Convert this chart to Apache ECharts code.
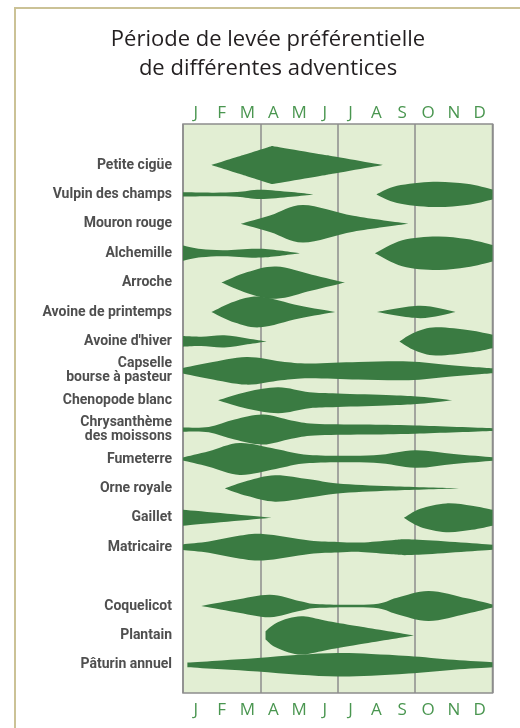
<!DOCTYPE html>
<html>
<head>
<meta charset="utf-8">
<title>Période de levée préférentielle</title>
<script src="https://cdn.jsdelivr.net/npm/echarts@6/dist/echarts.min.js"></script>
<style>
html, body { margin: 0; padding: 0; background: #fff; }
#main { width: 520px; height: 728px; }
</style>
</head>
<body>
<div id="main"></div>
<script>
// mois, en haut et en bas du tableau
const months = ['J', 'F', 'M', 'A', 'M', 'J', 'J', 'A', 'S', 'O', 'N', 'D'];

// adventices de haut en bas ('' = ligne vide avant Coquelicot)
const weeds = [
    'Petite cigüe', 'Vulpin des champs', 'Mouron rouge', 'Alchemille', 'Arroche',
    'Avoine de printemps', "Avoine d'hiver", 'Capselle\nbourse à pasteur', 'Chenopode blanc',
    'Chrysanthème\ndes moissons', 'Fumeterre', 'Orne royale', 'Gaillet', 'Matricaire',
    '', 'Coquelicot', 'Plantain', 'Pâturin annuel'
];

// fuseaux : [adventice, [[mois, demi-épaisseur (en hauteur de ligne)], ...]]
const lenses = [
    ['Petite cigüe', [[1.1, 0], [2.3, 0.33], [3.45, 0.65], [5.6, 0.33], [7.75, 0]]],
    ['Vulpin des champs', [[0, 0.07], [1.2, 0.06], [2.1, 0.08], [3.0, 0.16], [4.2, 0.08], [5.05, 0]]],
    ['Vulpin des champs', [[7.5, 0], [8.3, 0.29], [9.7, 0.43], [11, 0.36], [12, 0.17]]],
    ['Mouron rouge', [[2.24, 0], [3.4, 0.29], [4.66, 0.64], [6.6, 0.27], [8.74, 0]]],
    ['Alchemille', [[0, 0.26], [0.7, 0.14], [1.6, 0.10], [3.0, 0.15], [4.53, 0]]],
    ['Alchemille', [[7.44, 0], [8.5, 0.44], [9.84, 0.57], [11, 0.48], [12, 0.28]]],
    ['Arroche', [[1.49, 0], [2.5, 0.36], [3.62, 0.55], [5.0, 0.27], [6.28, 0]]],
    ['Avoine de printemps', [[1.1, 0], [2.0, 0.36], [3.0, 0.52], [4.5, 0.22], [5.9, 0]]],
    ['Avoine de printemps', [[7.52, 0], [9.2, 0.21], [10.57, 0]]],
    ["Avoine d'hiver", [[0, 0.18], [0.7, 0.16], [1.6, 0.21], [2.5, 0.10], [3.24, 0]]],
    ["Avoine d'hiver", [[8.39, 0], [9.0, 0.31], [9.8, 0.48], [11.1, 0.38], [12, 0.23]]],
    ['Capselle\nbourse à pasteur', [[0, 0.095], [1.0, 0.27], [2.46, 0.47], [3.8, 0.32], [4.9, 0.25],
        [6.8, 0.30], [8.75, 0.32], [10.3, 0.20], [12, 0.085]]],
    ['Chenopode blanc', [[1.36, 0], [2.5, 0.29], [3.7, 0.44], [4.9, 0.27], [6, 0.23],
        [8.1, 0.17], [9.2, 0.12], [10.44, 0]]],
    ['Chrysanthème\ndes moissons', [[0, 0.07], [1.0, 0.09], [2.0, 0.34], [3.1, 0.51], [4.2, 0.31],
        [5.1, 0.20], [7, 0.17], [9, 0.14], [12, 0.05]]],
    ['Fumeterre', [[0, 0.05], [1.0, 0.26], [2.2, 0.54], [3.6, 0.34], [4.9, 0.14], [7.4, 0.13],
        [9.0, 0.30], [10.5, 0.17], [12, 0.06]]],
    ['Orne royale', [[1.62, 0], [2.5, 0.26], [3.57, 0.45], [4.9, 0.31], [6, 0.17], [8.1, 0.07], [10.7, 0]]],
    ['Gaillet', [[0, 0.27], [3.44, 0]]],
    ['Gaillet', [[8.56, 0], [9.2, 0.31], [10.2, 0.49], [11.2, 0.41], [12, 0.27]]],
    ['Matricaire', [[0, 0.095], [1.0, 0.19], [2.0, 0.36], [3.1, 0.45], [4.9, 0.23], [6, 0.18],
        [6.9, 0.16], [8.1, 0.24], [9, 0.26], [12, 0.085]]],
    ['Coquelicot', [[0.71, 0], [2.0, 0.20], [3.37, 0.38], [4.5, 0.17], [5.3, 0.06], [7.4, 0.06],
        [8.3, 0.28], [9.53, 0.51], [11, 0.26], [12, 0.05]]],
    ['Plantain', [[3.2, 0.14], [3.55, 0.39], [4.1, 0.58], [4.67, 0.65], [5.5, 0.51], [6.8, 0.31], [8.95, 0]]],
    ['Pâturin annuel', [[0.17, 0.08], [1.5, 0.15], [2.9, 0.23], [4.5, 0.34], [6, 0.40], [7.3, 0.37],
        [8.75, 0.30], [10.5, 0.17], [12, 0.085]]]
];

// celui-ci a des bords droits (losange)
const straightWeeds = ['Petite cigüe'];

const GREEN = '#3a7b42';
const GRID_LINE = '#8d8d8d';

// segments de Catmull-Rom entre les points (t = 0 -> lignes droites)
function curve(pts, t) {
    let d = '';
    for (let i = 0; i < pts.length - 1; i++) {
        const p0 = pts[i - 1] || pts[i];
        const p1 = pts[i];
        const p2 = pts[i + 1];
        const p3 = pts[i + 2] || pts[i + 1];
        const c1 = [p1[0] + (p2[0] - p0[0]) * t / 6, p1[1] + (p2[1] - p0[1]) * t / 6];
        const c2 = [p2[0] - (p3[0] - p1[0]) * t / 6, p2[1] - (p3[1] - p1[1]) * t / 6];
        d += ' C' + c1.join(' ') + ' ' + c2.join(' ') + ' ' + p2.join(' ');
    }
    return d;
}

const renderLens = (params, api) => {
    const name = lenses[params.dataIndex][0];
    const pts = lenses[params.dataIndex][1];
    const row = weeds.indexOf(name);
    const t = straightWeeds.includes(name) ? 0 : 1;
    const top = pts.map(p => api.coord([p[0], row - p[1]]));
    const bot = pts.slice().reverse().map(p => api.coord([p[0], row + p[1]]));
    const d = 'M' + top[0].join(' ') + curve(top, t) + ' L' + bot[0].join(' ') + curve(bot, t) + ' Z';
    return {
        type: 'path',
        shape: { pathData: d },
        style: { fill: GREEN }
    };
};

const chartDom = document.getElementById('main');
const myChart = echarts.init(chartDom);

const monthLabel = {
    color: '#4a9650',
    fontSize: 17,
    fontFamily: 'Open Sans'
};

const option = {
    animation: false,
    backgroundColor: '#fff',
    title: {
        text: 'Période de levée préférentielle\nde différentes adventices',
        left: 263,
        top: 20,
        textAlign: 'center',
        textStyle: {
            fontFamily: 'Open Sans',
            fontWeight: 'normal',
            fontSize: 22,
            lineHeight: 29,
            color: '#231f20'
        }
    },
    graphic: [{
        type: 'rect',
        shape: { x: 15, y: 8, width: 540, height: 760 },
        style: { fill: 'none', stroke: '#cbc296', lineWidth: 2 },
        silent: true
    }],
    grid: [
        { left: 183, right: 27.5, top: 124, bottom: 35, show: true,
          backgroundColor: '#e2eed3', borderColor: GRID_LINE, borderWidth: 1.5 },
        { left: 183, right: 27.5, top: 150.3, bottom: 48.5 }
    ],
    xAxis: [
        {
            gridIndex: 0, type: 'category', data: months, position: 'top',
            axisLine: { show: false }, axisTick: { show: false },
            axisLabel: Object.assign({ margin: 2 }, monthLabel),
            splitLine: { show: true, interval: 2, lineStyle: { color: GRID_LINE, width: 1.5 } }
        },
        {
            gridIndex: 0, type: 'category', data: months, position: 'bottom',
            axisLine: { show: false }, axisTick: { show: false },
            axisLabel: Object.assign({ margin: 9 }, monthLabel),
            splitLine: { show: false }
        },
        { gridIndex: 1, type: 'value', min: 0, max: 12, show: false }
    ],
    yAxis: [
        { gridIndex: 0, type: 'value', min: 0, max: 1, show: false },
        {
            gridIndex: 1, type: 'category', data: weeds, inverse: true,
            axisLine: { show: false }, axisTick: { show: false }, splitLine: { show: false },
            axisLabel: {
                margin: 11,
                interval: 0,
                color: '#4f4f4f',
                fontFamily: 'Roboto',
                fontWeight: 'bold',
                fontSize: 14,
                lineHeight: 14
            }
        },
        { gridIndex: 1, type: 'value', inverse: true, min: -0.5, max: 17.5, show: false }
    ],
    series: [{
        type: 'custom',
        name: 'levée',
        xAxisIndex: 2,
        yAxisIndex: 2,
        clip: false,
        renderItem: renderLens,
        data: lenses.map((l, i) => [i])
    }]
};

option && myChart.setOption(option);
</script>
</body>
</html>
